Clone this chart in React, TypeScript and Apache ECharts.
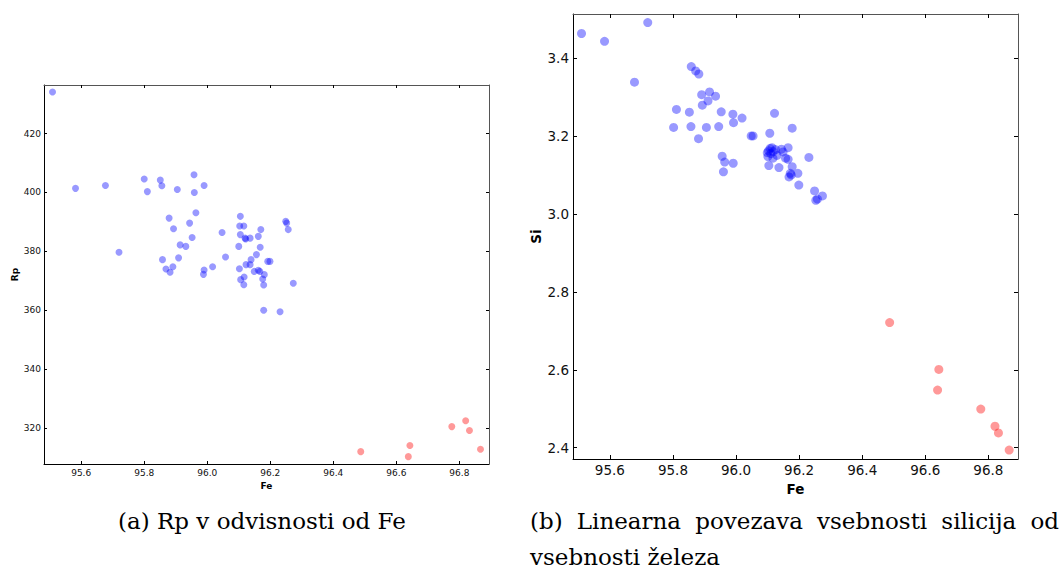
import React, { useEffect, useRef } from "react";
import * as echarts from "echarts";

// Panel (a): Fe vs Rp
const feRpBlue: number[][] = [
  [95.509, 434.1], [95.582, 401.4], [95.677, 402.4], [95.72, 379.7], [95.8, 404.6],
  [95.81, 400.3], [95.851, 404.2], [95.856, 402.3], [95.905, 401.0], [95.958, 406.0],
  [95.959, 400.0], [95.99, 402.4], [95.879, 391.3], [95.964, 393.1], [95.893, 387.7],
  [95.944, 389.6], [95.952, 384.7], [95.914, 382.2], [95.932, 381.7], [95.858, 377.2],
  [95.909, 377.8], [95.869, 374.0], [95.882, 372.9], [95.891, 374.8], [95.99, 373.7],
  [95.988, 372.2], [96.017, 374.8], [96.047, 386.4], [96.058, 378.1],
  [96.105, 391.9], [96.103, 388.6], [96.116, 388.6], [96.105, 385.7], [96.12, 384.5],
  [96.122, 384.2], [96.136, 384.5], [96.162, 385.1], [96.17, 387.4], [96.249, 390.2],
  [96.252, 389.6], [96.257, 387.4], [96.1, 381.7], [96.168, 381.4], [96.156, 378.9],
  [96.139, 377.2], [96.192, 376.6], [96.199, 376.6], [96.102, 374.1], [96.123, 375.5],
  [96.136, 375.5], [96.149, 373.2], [96.162, 373.6], [96.167, 373.2], [96.181, 372.1],
  [96.117, 371.3], [96.106, 370.4], [96.176, 370.6], [96.116, 368.7], [96.179, 368.6],
  [96.273, 369.2], [96.179, 360.0], [96.231, 359.5],
];
const feRpRed: number[][] = [
  [96.487, 312.0], [96.643, 314.1], [96.638, 310.3], [96.776, 320.5],
  [96.82, 322.5], [96.832, 319.2], [96.867, 312.8],
];

// Panel (b): Fe vs Si
const feSiBlue: number[][] = [
  [95.51, 3.463], [95.583, 3.443], [95.72, 3.491], [95.678, 3.338], [95.858, 3.378],
  [95.872, 3.367], [95.882, 3.359], [95.891, 3.306], [95.916, 3.313], [95.935, 3.302],
  [95.911, 3.29], [95.893, 3.279], [95.811, 3.268], [95.852, 3.261], [95.953, 3.262],
  [95.99, 3.256], [96.019, 3.246], [95.992, 3.234], [95.802, 3.222], [95.857, 3.224],
  [95.906, 3.222], [95.945, 3.224], [95.881, 3.193], [96.048, 3.2], [96.054, 3.2],
  [96.107, 3.207], [96.122, 3.258], [96.178, 3.22], [95.956, 3.148], [95.964, 3.133],
  [95.96, 3.108], [95.991, 3.13],
  [96.103, 3.162], [96.108, 3.168], [96.114, 3.17], [96.099, 3.157], [96.118, 3.16],
  [96.144, 3.166], [96.165, 3.17], [96.149, 3.159], [96.101, 3.147], [96.117, 3.143],
  [96.157, 3.143], [96.165, 3.14], [96.231, 3.145], [96.104, 3.124], [96.136, 3.119],
  [96.178, 3.121], [96.172, 3.104], [96.196, 3.104], [96.168, 3.095], [96.175, 3.1],
  [96.199, 3.074], [96.249, 3.059], [96.274, 3.046], [96.258, 3.038], [96.253, 3.035],
  [96.11, 3.155], [96.125, 3.165], [96.13, 3.15],
];
const feSiRed: number[][] = [
  [96.487, 2.721], [96.643, 2.601], [96.639, 2.548], [96.776, 2.499],
  [96.821, 2.455], [96.832, 2.438], [96.866, 2.394],
];

const feTicks = [95.6, 95.8, 96.0, 96.2, 96.4, 96.6, 96.8];
const rpTicks = [320, 340, 360, 380, 400, 420];
const siTicks = [2.4, 2.6, 2.8, 3.0, 3.2, 3.4];

const captionA = "(a) Rp v odvisnosti od Fe";
const captionB1Words = ["(b)", "Linearna", "povezava", "vsebnosti", "silicija", "od"];
const captionB2 = "vsebnosti železa";

const BLUE = "rgba(0,0,255,0.5)";
const RED = "rgba(255,0,0,0.5)";
const FONT = "DejaVu Sans";
const CAP_FONT = "23px 'DejaVu Serif'";

function mkX(grid: number, pos: string, min: number, max: number, fs: number, tickLen: number, main: boolean, name: string, gap: number) {
  return {
    type: "value",
    gridIndex: grid,
    position: pos,
    min,
    max,
    name: main ? name : "",
    nameLocation: "middle",
    nameGap: gap,
    nameTextStyle: { fontFamily: FONT, fontWeight: "bold", fontSize: fs, color: "#000" },
    splitLine: { show: false },
    axisLine: { show: true, onZero: false, lineStyle: { color: main ? "#000" : "#555", width: 1 } },
    axisTick: { show: true, inside: true, length: tickLen, customValues: feTicks, lineStyle: { color: "#000" } },
    axisLabel: {
      show: main,
      customValues: feTicks,
      formatter: (v: number) => v.toFixed(1),
      fontFamily: FONT,
      fontSize: fs,
      color: "#111",
      margin: 4,
    },
  };
}

function mkY(grid: number, pos: string, min: number, max: number, ticks: number[], fs: number, tickLen: number, main: boolean, name: string, gap: number, digits: number, margin: number) {
  return {
    type: "value",
    gridIndex: grid,
    position: pos,
    min,
    max,
    name: main ? name : "",
    nameLocation: "middle",
    nameGap: gap,
    nameTextStyle: { fontFamily: FONT, fontWeight: "bold", fontSize: fs, color: "#000" },
    splitLine: { show: false },
    axisLine: { show: true, onZero: false, lineStyle: { color: main ? "#000" : "#555", width: 1 } },
    axisTick: { show: true, inside: true, length: tickLen, customValues: ticks, lineStyle: { color: "#000" } },
    axisLabel: {
      show: main,
      customValues: ticks,
      formatter: (v: number) => v.toFixed(digits),
      fontFamily: FONT,
      fontSize: fs,
      color: "#111",
      margin,
    },
  };
}

function justifiedLefts(words: string[], font: string, start: number, end: number): number[] {
  const ctx = document.createElement("canvas").getContext("2d");
  let widths = words.map((w) => w.length * 12);
  if (ctx) {
    ctx.font = font;
    widths = words.map((w) => ctx.measureText(w).width);
  }
  const total = widths.reduce((a, b) => a + b, 0);
  const gap = (end - start - total) / (words.length - 1);
  const lefts: number[] = [];
  let x = start;
  widths.forEach((w) => {
    lefts.push(x);
    x += w + gap;
  });
  return lefts;
}

export default function App() {
  const ref = useRef<HTMLDivElement>(null);
  useEffect(() => {
    if (!ref.current) return;
    const chart = echarts.init(ref.current, null, { renderer: "svg" });
    const wordLefts = justifiedLefts(captionB1Words, CAP_FONT, 530, 1059);
    chart.setOption({
      animation: false,
      backgroundColor: "#fff",
      grid: [
        { left: 44, top: 85, width: 445, height: 379 },
        { left: 573, top: 14, width: 445, height: 445 },
      ],
      xAxis: [
        mkX(0, "bottom", 95.482, 96.894, 9, 3, true, "Fe", 9),
        mkX(0, "top", 95.482, 96.894, 9, 3, false, "", 0),
        mkX(1, "bottom", 95.483, 96.894, 13.5, 4, true, "Fe", 15),
        mkX(1, "top", 95.483, 96.894, 13.5, 4, false, "", 0),
      ],
      yAxis: [
        mkY(0, "left", 307.8, 436.5, rpTicks, 9, 3, true, "Rp", 24, 0, 3),
        mkY(0, "right", 307.8, 436.5, rpTicks, 9, 3, false, "", 0, 0, 3),
        mkY(1, "left", 2.371, 3.513, siTicks, 13.5, 4, true, "Si", 30, 1, 4),
        mkY(1, "right", 2.371, 3.513, siTicks, 13.5, 4, false, "", 0, 1, 4),
      ],
      series: [
        { type: "scatter", xAxisIndex: 0, yAxisIndex: 0, data: feRpBlue, symbolSize: 7, itemStyle: { color: BLUE } },
        { type: "scatter", xAxisIndex: 0, yAxisIndex: 0, data: feRpRed, symbolSize: 7, itemStyle: { color: RED } },
        { type: "scatter", xAxisIndex: 2, yAxisIndex: 2, data: feSiBlue, symbolSize: 9, itemStyle: { color: BLUE } },
        { type: "scatter", xAxisIndex: 2, yAxisIndex: 2, data: feSiRed, symbolSize: 9, itemStyle: { color: RED } },
      ],
      graphic: [
        { type: "text", left: 118, top: 509, style: { text: captionA, font: CAP_FONT, fill: "#000" } },
        ...captionB1Words.map((w, i) => ({
          type: "text",
          left: wordLefts[i],
          top: 509,
          style: { text: w, font: CAP_FONT, fill: "#000" },
        })),
        { type: "text", left: 530, top: 545, style: { text: captionB2, font: CAP_FONT, fill: "#000" } },
      ],
    });
    return () => chart.dispose();
  }, []);
  return <div ref={ref} style={{ position: "absolute", left: 0, top: 0, width: 1064, height: 569 }} />;
}
